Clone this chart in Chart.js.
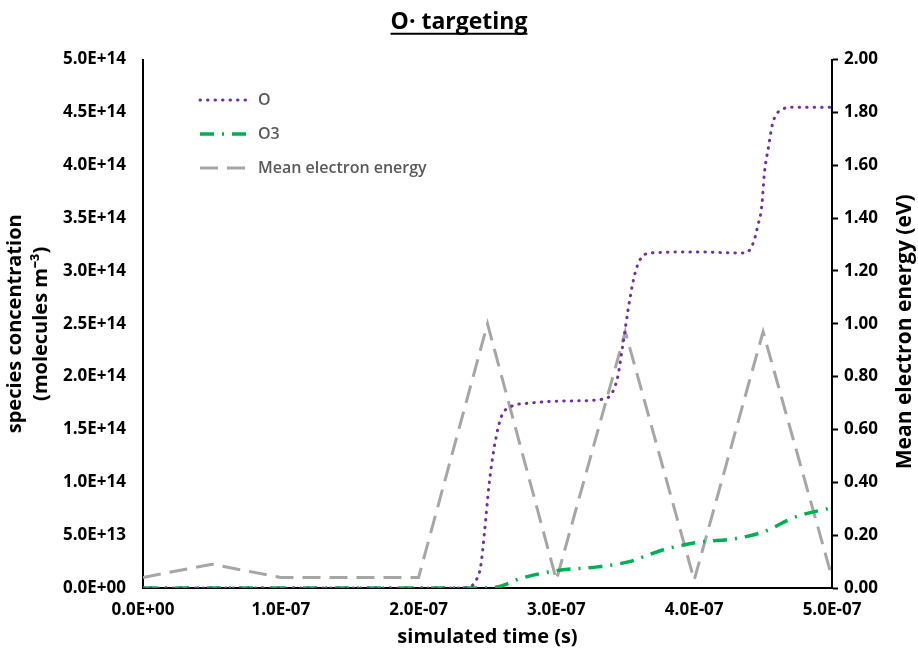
<!DOCTYPE html>
<html>
<head>
<meta charset="utf-8">
<script src="https://cdn.jsdelivr.net/npm/chart.js@4.4.1/dist/chart.umd.min.js"></script>
<style>
  body { margin: 0; background: #fff; }
</style>
</head>
<body>
<canvas id="chart" width="918" height="649"></canvas>
<script>
// O species concentration (molecules m-3) vs time (s)
const timeO = [0, 2.3e-7, 2.37e-7, 2.42e-7, 2.45e-7, 2.48e-7, 2.51e-7, 2.55e-7, 2.6e-7, 2.66e-7, 2.81e-7, 3.1e-7, 3.35e-7, 3.44e-7, 3.48e-7, 3.52e-7, 3.56e-7, 3.6e-7, 3.68e-7, 4.0e-7, 4.37e-7, 4.43e-7, 4.46e-7, 4.49e-7, 4.51e-7, 4.54e-7, 4.57e-7, 4.64e-7, 4.72e-7, 5.0e-7];
const valO = [0, 0, 0.01e14, 0.08e14, 0.2e14, 0.55e14, 0.96e14, 1.34e14, 1.62e14, 1.71e14, 1.75e14, 1.77e14, 1.79e14, 1.97e14, 2.28e14, 2.63e14, 2.92e14, 3.09e14, 3.17e14, 3.18e14, 3.17e14, 3.27e14, 3.42e14, 3.61e14, 3.93e14, 4.18e14, 4.4e14, 4.53e14, 4.55e14, 4.55e14];

// O3 species concentration
const timeO3 = [0, 2.4e-7, 2.57e-7, 2.74e-7, 3.0e-7, 3.3e-7, 3.53e-7, 3.77e-7, 4.02e-7, 4.31e-7, 4.5e-7, 4.74e-7, 5.0e-7];
const valO3 = [0, 0, 0.01e14, 0.09e14, 0.164e14, 0.2e14, 0.25e14, 0.36e14, 0.43e14, 0.47e14, 0.53e14, 0.675e14, 0.76e14];

// mean electron energy (eV)
const timeE = [0, 0.5e-7, 1.0e-7, 2.0e-7, 2.5e-7, 3.0e-7, 3.5e-7, 4.0e-7, 4.5e-7, 5.0e-7];
const valE = [0.04, 0.09, 0.04, 0.04, 1.0, 0.03, 0.97, 0.03, 0.97, 0.04];

const seriesLabels = ['O', 'O3', 'Mean electron energy'];

function pts(xs, ys) {
    let out = [];
    for (let i = 0; i < xs.length; i++) {
        out[i] = { x: xs[i], y: ys[i] };
    }
    return out;
}

function sci(v) {
    let parts = Number(v).toExponential(1).split('e');
    let e = parts[1];
    let sign = e[0] === '-' ? '-' : '+';
    let digits = e.replace('+', '').replace('-', '').padStart(2, '0');
    return parts[0] + 'E' + sign + digits;
}

const FONT = '"Open Sans", sans-serif';
const TITLE_SIZE = 23;
const TITLE_PAD_TOP = 8;

// legend drawn inside the plot, top left
const insideLegend = {
    id: 'insideLegend',
    afterDraw(chart) {
        const ctx = chart.ctx;
        const left = chart.chartArea.left + 57;
        chart.data.datasets.forEach((ds, i) => {
            const y = 100 + i * 34;
            ctx.save();
            ctx.strokeStyle = ds.borderColor;
            ctx.lineWidth = ds.borderWidth;
            ctx.setLineDash(ds.borderDash);
            ctx.lineCap = ds.borderCapStyle || 'butt';
            ctx.beginPath();
            ctx.moveTo(left, y);
            ctx.lineTo(left + 50, y);
            ctx.stroke();
            ctx.setLineDash([]);
            ctx.fillStyle = '#595959';
            ctx.font = '600 16px ' + FONT;
            ctx.textBaseline = 'middle';
            ctx.fillText(ds.label, left + 58, y);
            ctx.restore();
        });
    }
};

// underline under the title + right axis title reading bottom to top
const extras = {
    id: 'extras',
    afterDraw(chart) {
        const tb = chart.titleBlock;
        const ctx = chart.ctx;
        ctx.save();
        ctx.font = 'bold ' + TITLE_SIZE + 'px ' + FONT;
        const w = ctx.measureText(tb.options.text).width;
        const cx = (tb.left + tb.right) / 2;
        const y = tb.top + TITLE_PAD_TOP + TITLE_SIZE * 0.6 + 11;
        ctx.strokeStyle = '#000';
        ctx.lineWidth = 2;
        ctx.beginPath();
        ctx.moveTo(cx - w / 2, y);
        ctx.lineTo(cx + w / 2, y);
        ctx.stroke();
        ctx.restore();

        const area = chart.chartArea;
        ctx.save();
        ctx.translate(area.right + 73, (area.top + area.bottom) / 2 + 8);
        ctx.rotate(-Math.PI / 2);
        ctx.font = 'bold 21px ' + FONT;
        ctx.fillStyle = '#000';
        ctx.textAlign = 'center';
        ctx.textBaseline = 'middle';
        ctx.fillText('Mean electron energy (eV)', 0, 0);
        ctx.restore();
    }
};

new Chart(document.getElementById('chart'), {
    type: 'line',
    data: {
        datasets: [{
            label: seriesLabels[0],
            data: pts(timeO, valO),
            yAxisID: 'y',
            borderColor: '#7030A0',
            borderWidth: 3,
            borderDash: [0.5, 7],
            borderCapStyle: 'round',
            cubicInterpolationMode: 'monotone',
            pointRadius: 0,
            fill: false
        }, {
            label: seriesLabels[1],
            data: pts(timeO3, valO3),
            yAxisID: 'y',
            borderColor: '#00B050',
            borderWidth: 3.5,
            borderDash: [14, 8, 2, 8],
            cubicInterpolationMode: 'monotone',
            pointRadius: 0,
            fill: false
        }, {
            label: seriesLabels[2],
            data: pts(timeE, valE),
            yAxisID: 'y2',
            borderColor: '#A6A6A6',
            borderWidth: 3,
            borderDash: [18, 9],
            tension: 0,
            pointRadius: 0,
            fill: false
        }]
    },
    options: {
        responsive: false,
        animation: false,
        layout: { padding: { top: 1, left: 0, right: 0, bottom: 0 } },
        plugins: {
            legend: { display: false },
            tooltip: { enabled: false },
            title: {
                display: true,
                text: 'O· targeting',
                color: '#000',
                font: { family: FONT, size: TITLE_SIZE, weight: 'bold' },
                padding: { top: TITLE_PAD_TOP, bottom: 23 }
            }
        },
        scales: {
            x: {
                type: 'linear',
                min: 0,
                max: 5e-7,
                grid: { display: false },
                border: { display: true, color: '#000', width: 2 },
                ticks: {
                    stepSize: 1e-7,
                    color: '#000',
                    padding: 4,
                    maxRotation: 0,
                    font: { family: FONT, size: 17, weight: 'bold' },
                    callback: (v) => sci(v)
                },
                title: {
                    display: true,
                    text: 'simulated time (s)',
                    color: '#000',
                    font: { family: FONT, size: 20, weight: 'bold' },
                    padding: { top: 0, bottom: 0 }
                },
                afterFit: (scale) => { scale.height = 61; }
            },
            y: {
                position: 'left',
                min: 0,
                max: 5e14,
                grid: { display: false },
                border: { display: true, color: '#000', width: 2 },
                ticks: {
                    stepSize: 5e13,
                    color: '#000',
                    padding: 9,
                    font: { family: FONT, size: 17, weight: 'bold' },
                    callback: (v) => sci(v)
                },
                title: {
                    display: true,
                    text: ['species concentration', '(molecules m⁻³)'],
                    color: '#000',
                    font: { family: FONT, size: 20, weight: 'bold', lineHeight: 1.3 },
                    padding: { top: 2, bottom: 0 }
                },
                afterFit: (scale) => { scale.width = 143; }
            },
            y2: {
                position: 'right',
                min: 0,
                max: 2,
                grid: {
                    display: true,
                    drawOnChartArea: false,
                    drawTicks: true,
                    tickLength: 6,
                    tickWidth: 2,
                    color: '#000'
                },
                border: { display: true, color: '#000', width: 2 },
                ticks: {
                    stepSize: 0.2,
                    color: '#000',
                    padding: 6,
                    font: { family: FONT, size: 17, weight: 'bold' },
                    callback: (v) => Number(v).toFixed(2)
                },
                title: { display: false },
                afterFit: (scale) => { scale.width = 86; }
            }
        }
    },
    plugins: [insideLegend, extras]
});
</script>
</body>
</html>
